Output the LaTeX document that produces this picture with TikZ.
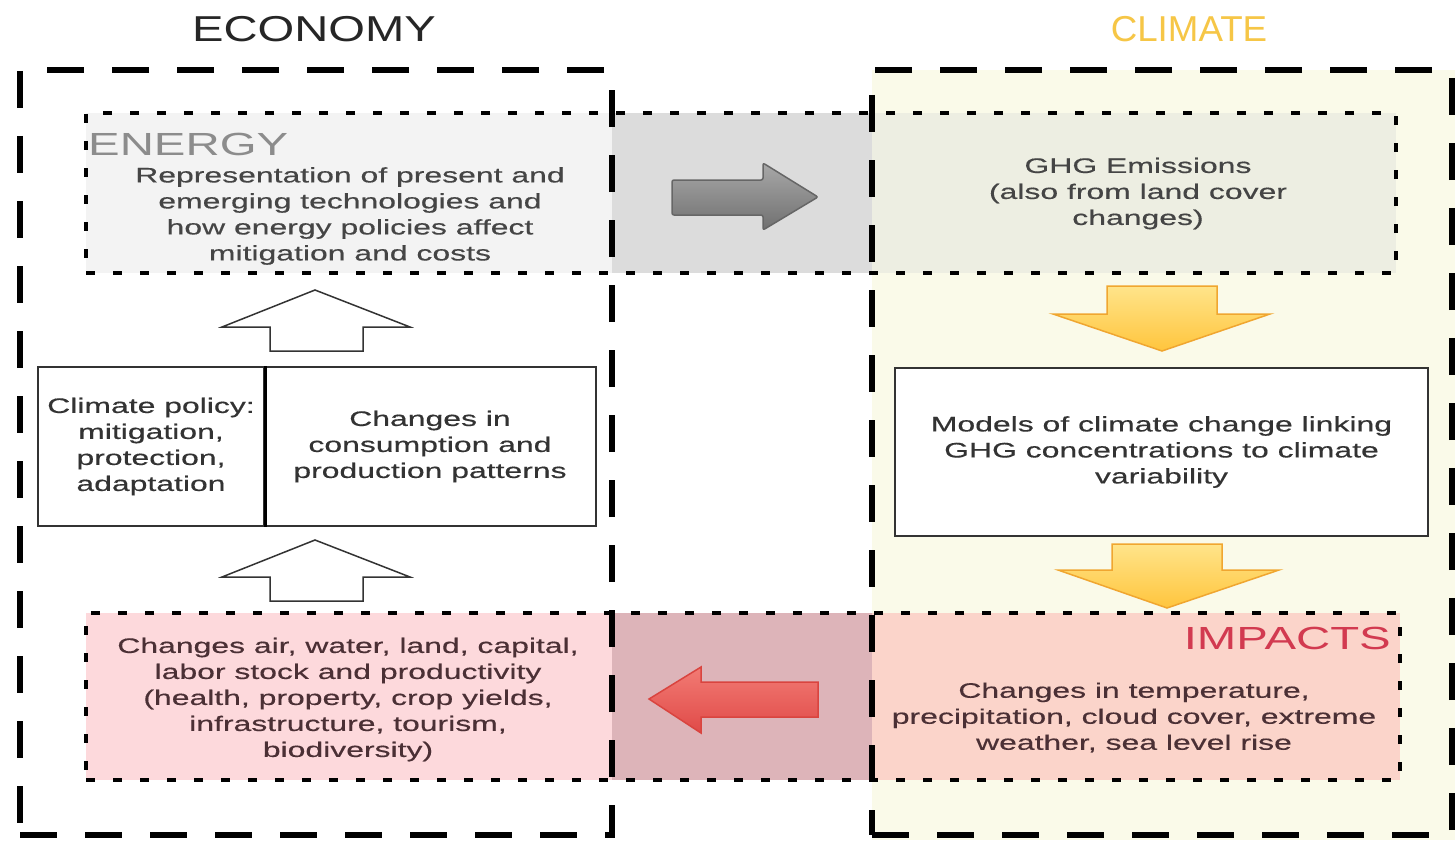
\documentclass[tikz,border=0pt]{standalone}
\usepackage{fontspec}
\setmainfont{Liberation Sans}[FakeStretch=1.52,FakeBold=0.4]
\newfontfamily\labelfont{Liberation Sans}[FakeStretch=1.48]
\newfontfamily\titlefont{Liberation Sans}[FakeStretch=1.31]
\newfontfamily\climtitlefont{Liberation Sans}[FakeStretch=1.02]
\definecolor{cream}{HTML}{FAFAE9}
\definecolor{energyL}{HTML}{F3F3F3}
\definecolor{energyM}{HTML}{DCDCDC}
\definecolor{energyR}{HTML}{EDEEE2}
\definecolor{impL}{HTML}{FDD9DC}
\definecolor{impM}{HTML}{DDB4B9}
\definecolor{impR}{HTML}{FBD4CA}
\definecolor{climateY}{HTML}{F6C646}
\definecolor{impred}{HTML}{D23A50}
\definecolor{txt}{HTML}{333333}
\definecolor{graytxt}{HTML}{454545}
\definecolor{pinktxt}{HTML}{4B3035}
\definecolor{yelTop}{HTML}{FFE48A}
\definecolor{yelBot}{HTML}{FFC53D}
\definecolor{yelEdge}{HTML}{F0A630}
\definecolor{redTop}{HTML}{F27B74}
\definecolor{redBot}{HTML}{E04A48}
\definecolor{redEdge}{HTML}{D9443F}
\definecolor{grayTop}{HTML}{A8A8A8}
\definecolor{grayBot}{HTML}{707070}
\begin{document}
\begin{tikzpicture}[x=1pt,y=-1pt,
  bigbox/.style={line width=6pt, dash pattern=on 37pt off 28pt, draw=black},
  dotbox/.style={line width=4pt, dash pattern=on 9pt off 18pt, draw=black},
  body/.style={font=\fontsize{21}{26}\selectfont, text=txt, align=center, inner sep=0pt},
  solidbox/.style={draw=black!80, line width=2pt, fill=white},
  title/.style={font=\titlefont\fontsize{36}{40}\selectfont, inner sep=0pt},
  label/.style={font=\labelfont\fontsize{32}{36}\selectfont, inner sep=0pt},
  hollowarrow/.style={draw=black!80, line width=1.5pt, fill=white, line join=miter},
  yelarrow/.style={top color=yelTop, bottom color=yelBot, draw=yelEdge, line width=1.5pt},
  redarrow/.style={top color=redTop, bottom color=redBot, draw=redEdge, line width=1.5pt},
  grayarrow/.style={top color=grayTop, bottom color=grayBot, draw=black!60, line width=1.5pt}]
\useasboundingbox (0,0) rectangle (1455,840);
\fill[white] (0,0) rectangle (1455,840);

% climate background
\fill[cream] (872,70) rectangle (1455,840);

% strip fills
\fill[energyL] (86,113) rectangle (612,273);
\fill[energyM] (612,113) rectangle (872,273);
\fill[energyR] (872,113) rectangle (1396,273);
\fill[impL] (86,613) rectangle (612,780);
\fill[impM] (612,613) rectangle (872,780);
\fill[impR] (872,613) rectangle (1400,780);

% big dashed boxes
\node[bigbox, minimum width=592pt, minimum height=765pt, inner sep=0pt] (economy) at (316,452.5) {};
\node[bigbox, minimum width=580pt, minimum height=765pt, inner sep=0pt] (climate) at (1162,452.5) {};

% dotted boxes
\node[dotbox, minimum width=1310pt, minimum height=160pt, inner sep=0pt] (energy) at (741,193) {};
\node[dotbox, minimum width=1314pt, minimum height=167pt, inner sep=0pt] (impacts) at (743,696.5) {};

% titles
\node[title, text=black!85, anchor=base] (econtitle) at (314,42) {ECONOMY};
\node[title, font=\climtitlefont\fontsize{36}{40}\selectfont, text=climateY, anchor=base] (climtitle) at (1189,42) {CLIMATE};

% labels
\node[label, text=black!45, anchor=base west] (energylabel) at (88,155) {ENERGY};
\node[label, text=impred, anchor=base east] (impactslabel) at (1391,649) {IMPACTS};

% texts in dotted boxes
\node[body, text=graytxt] (energytext) at (350,216) {Representation of present and\\emerging technologies and\\how energy policies affect\\mitigation and costs};
\node[body, text=graytxt] (ghg) at (1138,193.5) {GHG Emissions\\(also from land cover\\changes)};
\node[body, text=pinktxt] (econimpact) at (348,699.5) {Changes air, water, land, capital,\\labor stock and productivity\\(health, property, crop yields,\\infrastructure, tourism,\\biodiversity)};
\node[body, text=pinktxt] (climimpact) at (1134,717.5) {Changes in temperature,\\precipitation, cloud cover, extreme\\weather, sea level rise};

% solid boxes
\node[solidbox, body, minimum width=226pt, minimum height=159pt] (policy) at (151,446.5) {Climate policy:\\mitigation,\\protection,\\adaptation};
\node[solidbox, body, minimum width=332pt, minimum height=159pt] (consumption) at (430,446.5) {Changes in\\consumption and\\production patterns};
\draw[black, line width=3pt] (policy.north east) -- (policy.south east);
\node[solidbox, body, minimum width=533pt, minimum height=168pt] (models) at (1161.5,452) {Models of climate change linking\\GHG concentrations to climate\\variability};

% hollow up arrows (economy)
\draw[hollowarrow] (315,290) -- (410,327) -- (363,327) -- (363,351) -- (270,351) -- (270,327) -- (222,327) -- cycle;
\draw[hollowarrow] (315,540) -- (410,577) -- (363,577) -- (363,601) -- (270,601) -- (270,577) -- (222,577) -- cycle;

% gray arrow energy -> emissions
\draw[grayarrow, rounded corners=2pt] (672,180) -- (763,180) -- (763,163) -- (818,197) -- (763,230) -- (763,215) -- (672,215) -- cycle;

% yellow down arrows
\draw[yelarrow] (1107,286) -- (1217,286) -- (1217,314) -- (1270,314) -- (1162,351) -- (1053,314) -- (1107,314) -- cycle;
\draw[yelarrow] (1112,544) -- (1222,544) -- (1222,570) -- (1279,570) -- (1167,608) -- (1058,570) -- (1112,570) -- cycle;

% red arrow impacts -> economy
\draw[redarrow] (818,682) -- (701,682) -- (701,667) -- (649,699) -- (701,733) -- (701,717) -- (818,717) -- cycle;
\end{tikzpicture}
\end{document}
